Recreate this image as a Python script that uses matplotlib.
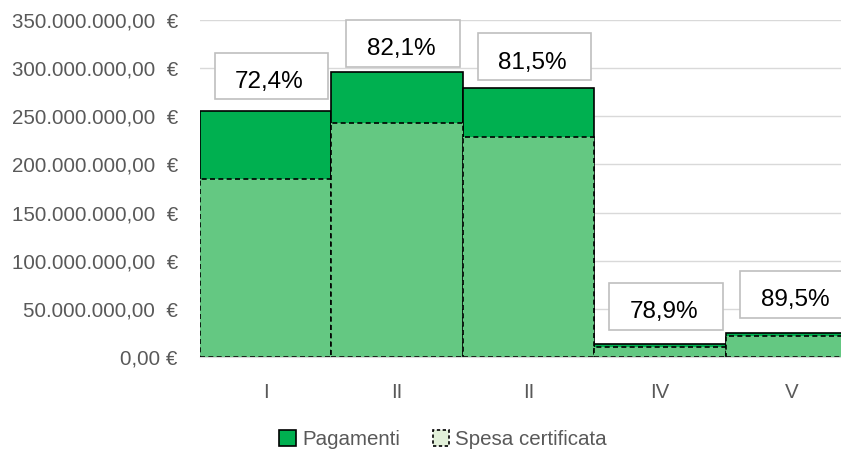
import matplotlib
matplotlib.use("Agg")
import matplotlib.pyplot as plt
import matplotlib.patches as mpatches
from matplotlib.ticker import FuncFormatter, MultipleLocator

# data (Excel chart, bars overlapped 100%)
categories = ["I", "II", "II", "IV", "V"]
pagamenti = [255.5e6, 295.7e6, 279.7e6, 13.0e6, 24.6e6]
spesa_cert = [184.6e6, 243.0e6, 228.2e6, 10.3e6, 22.0e6]
pct_labels = ["72,4%", "82,1%", "81,5%", "78,9%", "89,5%"]

# label boxes were hand-placed in the source: offset of box centre above bar top (px)
LABEL_OFFSET_PX = [35, 29, 31, 38, 39]
BOX_W, BOX_H = 0.865, 46.5      # width in categories, height in px
GRAY = "#595959"
plt.rcParams["font.family"] = ["Liberation Sans", "DejaVu Sans"]

fig = plt.figure(figsize=(8.41, 4.58), dpi=100)
ax = fig.add_axes([200 / 841, 101 / 458, 657 / 841, 337 / 458])
x = list(range(len(categories)))

ax.bar(x, pagamenti, width=1.0, color="#00B050", edgecolor="black", linewidth=1.2, zorder=2)
ax.bar(x, spesa_cert, width=1.0, color="#64C882", edgecolor="black", linewidth=1.2,
       linestyle=(0, (3, 2)), zorder=3)

ax.set_xlim(-0.5, len(categories) - 0.5)
ax.set_ylim(0, 350e6)
ax.yaxis.set_major_locator(MultipleLocator(50e6))
ax.grid(axis="y", color="#D9D9D9", linewidth=1, zorder=0)
ax.set_axisbelow(True)
for s in ("top", "right", "left"):
    ax.spines[s].set_visible(False)
ax.spines["bottom"].set_color("#D9D9D9")
ax.spines["bottom"].set_zorder(4)


def euro(v, _pos):
    if v == 0:
        return "0,00 €"
    s = f"{v:,.2f}".replace(",", "X").replace(".", ",").replace("X", ".")
    return s + "  €"


ax.yaxis.set_major_formatter(FuncFormatter(euro))
ax.set_xticks(x)
ax.set_xticklabels(categories)
ax.tick_params(axis="y", length=0, pad=16, labelsize=14.8, labelcolor=GRAY)
ax.tick_params(axis="x", length=0, pad=19, labelsize=14.8, labelcolor=GRAY)

# percentage labels in white boxes
px2y = 350e6 / ax.get_window_extent().height
for i, (top, lab, off) in enumerate(zip(pagamenti, pct_labels, LABEL_OFFSET_PX)):
    xc = i + 0.045
    yc = top + off * px2y
    h = BOX_H * px2y
    ax.add_patch(mpatches.Rectangle((xc - BOX_W / 2, yc - h / 2), BOX_W, h,
                                    facecolor="white", edgecolor="#BFBFBF",
                                    linewidth=1.2, zorder=5, clip_on=False))
    ax.annotate(lab, (xc, yc), xytext=(-2, -6), textcoords="offset pixels",
                ha="center", va="center", fontsize=17.5, color="black", zorder=6)

handles = [
    mpatches.Patch(facecolor="#00B050", edgecolor="black", linewidth=1.2, label="Pagamenti"),
    mpatches.Patch(facecolor="#E2F0D9", edgecolor="black", linewidth=1.2,
                   linestyle=(0, (2, 1.5)), label="Spesa certificata"),
]
leg = fig.legend(handles=handles, loc="center", bbox_to_anchor=(0.527, 0.04), ncol=2,
                 frameon=False, fontsize=14.8, handlelength=0.8, handleheight=0.8,
                 handletextpad=0.3, columnspacing=1.6)
for t in leg.get_texts():
    t.set_color(GRAY)

fig.savefig("out.png", dpi=100)
